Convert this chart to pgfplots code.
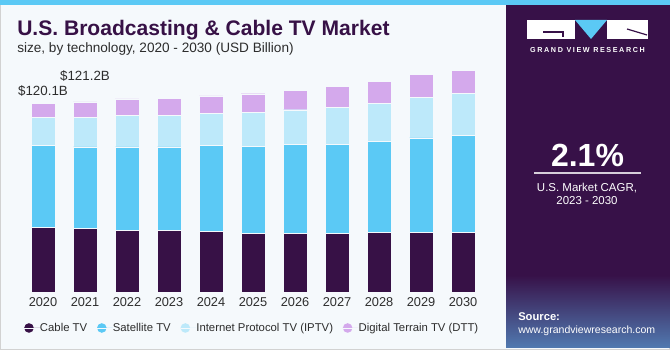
\documentclass[border=0pt]{standalone}
\usepackage{fontspec}
\setmainfont{Liberation Sans}
\newfontfamily\logofont[LetterSpace=22]{Liberation Sans}
\usepackage{pgfplots}
\pgfplotsset{compat=1.18}
\usepackage{pgfplotstable}
\definecolor{cable}{RGB}{55,17,70}
\definecolor{sat}{RGB}{91,201,245}
\definecolor{iptv}{RGB}{189,233,250}
\definecolor{dtt}{RGB}{212,169,236}
\definecolor{bgc}{RGB}{245,249,252}
\definecolor{panel}{RGB}{55,17,72}
\definecolor{txt}{RGB}{45,45,45}

\pgfplotstableread{
x cable sat iptv dtt
0 41.1 52.4 17.7 8.9
1 40.5 52.1 18.7 9.9
2 39.3 53.3 20.0 10.6
3 39.2 53.4 20.1 10.6
4 38.7 54.6 20.7 11.0
5 37.6 55.4 21.7 11.7
6 37.6 56.7 21.9 12.5
7 37.2 57.1 23.4 13.2
8 37.9 58.2 24.0 14.0
9 38.1 60.1 26.1 14.5
10 38.2 61.6 27.0 14.7
}\data

\begin{document}
\begin{tikzpicture}
\begin{scope}[x=0.75pt,y=0.75pt]
\path[use as bounding box] (0,0) rectangle (670,350);
\fill[bgc] (0,0) rectangle (670,350);
\draw[gray!35, line width=0.75pt] (0.5,0.5) rectangle (669.5,346);
\fill[sat] (0,345) rectangle (670,350);
\fill[panel] (506,3) rectangle (670,345);
\shade[top color=panel, bottom color={rgb,255:red,80;green,120;blue,175}] (506,3) rectangle (670,75);
% logo
\fill[white] (527,330) rectangle (575,311);
\draw[panel, line width=0.9pt] (543,318) -- (563,318) -- (563,313);
\fill[sat] (575,330) -- (607,330) -- (591,311) -- cycle;
\fill[white] (607,330) rectangle (648,311);
\draw[panel, line width=0.9pt] (627,321) -- (647,315);
\node[anchor=base, inner sep=0, text=white, font=\logofont\fontsize{5.4}{6}\selectfont\bfseries] at (587.5,297) {GRAND VIEW RESEARCH};
% CAGR
\node[anchor=base, inner sep=0, text=white, font=\fontsize{24}{28}\selectfont\bfseries] at (587.5,183.5) {2.1\%};
\draw[white!80!panel, line width=0.9pt] (534,177) -- (641,177);
\node[anchor=base, inner sep=0, text=white, font=\fontsize{8.6}{10}\selectfont] at (587,158) {U.S. Market CAGR,};
\node[anchor=base, inner sep=0, text=white, font=\fontsize{8.6}{10}\selectfont] at (587,146) {2023 - 2030};
\node[anchor=base west, inner sep=0, text=white, font=\fontsize{8.4}{10}\selectfont\bfseries] at (518,30) {Source:};
\node[anchor=base west, inner sep=0, text=white, font=\fontsize{7.9}{10}\selectfont] at (518,17) {www.grandviewresearch.com};
% titles
\node[anchor=base west, inner sep=0, text=cable, font=\fontsize{15.8}{18}\selectfont\bfseries] at (17,314) {U.S. Broadcasting \& Cable TV Market};
\node[anchor=base west, inner sep=0, text=txt, font=\fontsize{10.2}{12}\selectfont] at (17,297) {size, by technology, 2020 - 2030 (USD Billion)};
\end{scope}

\begin{axis}[
  at={(16.5pt,43.5pt)}, anchor=south west,
  scale only axis, width=346.5pt, height=174.1pt,
  xmin=-0.5, xmax=10.5, ymin=0, ymax=148,
  ybar stacked, bar width=0.57,
  axis line style={draw=none}, ytick=\empty,
  xtick=data, xticklabels={2020,2021,2022,2023,2024,2025,2026,2027,2028,2029,2030},
  major tick length=0pt,
  xticklabel style={font=\fontsize{9.6}{11}\selectfont, text=txt, inner sep=0pt, anchor=north, yshift=-3.75pt},
  clip=false,
  legend columns=4,
  legend style={at={(axis description cs:0.004,-0.155)}, anchor=west, draw=none, fill=none,
    inner sep=0pt, font=\fontsize{8.5}{10}\selectfont, text=txt,
    nodes={inner sep=0pt, text depth=0.15em}, cells={anchor=west},
    /tikz/every even column/.append style={column sep=7.3pt}},
  legend image code/.code={\fill[#1, draw=none] (3.5pt,0pt) circle (3.6pt); \path (0pt,0pt) -- (11.6pt,0pt);},
]
\addplot[fill=cable, draw=bgc, line width=0.3pt] table[x=x,y=cable]{\data};
\addplot[fill=sat, draw=bgc, line width=0.3pt] table[x=x,y=sat]{\data};
\addplot[fill=iptv, draw=bgc, line width=0.3pt] table[x=x,y=iptv]{\data};
\addplot[fill=dtt, draw=bgc, line width=0.3pt] table[x=x,y=dtt]{\data};
\legend{Cable TV, Satellite TV, Internet Protocol TV (IPTV), Digital Terrain TV (DTT)}
\node[font=\fontsize{10}{12}\selectfont, text=txt, inner sep=0pt] at (axis cs:0,128.1) {\$120.1B};
\node[font=\fontsize{10}{12}\selectfont, text=txt, inner sep=0pt] at (axis cs:1,137.7) {\$121.2B};
\end{axis}
\end{tikzpicture}
\end{document}
